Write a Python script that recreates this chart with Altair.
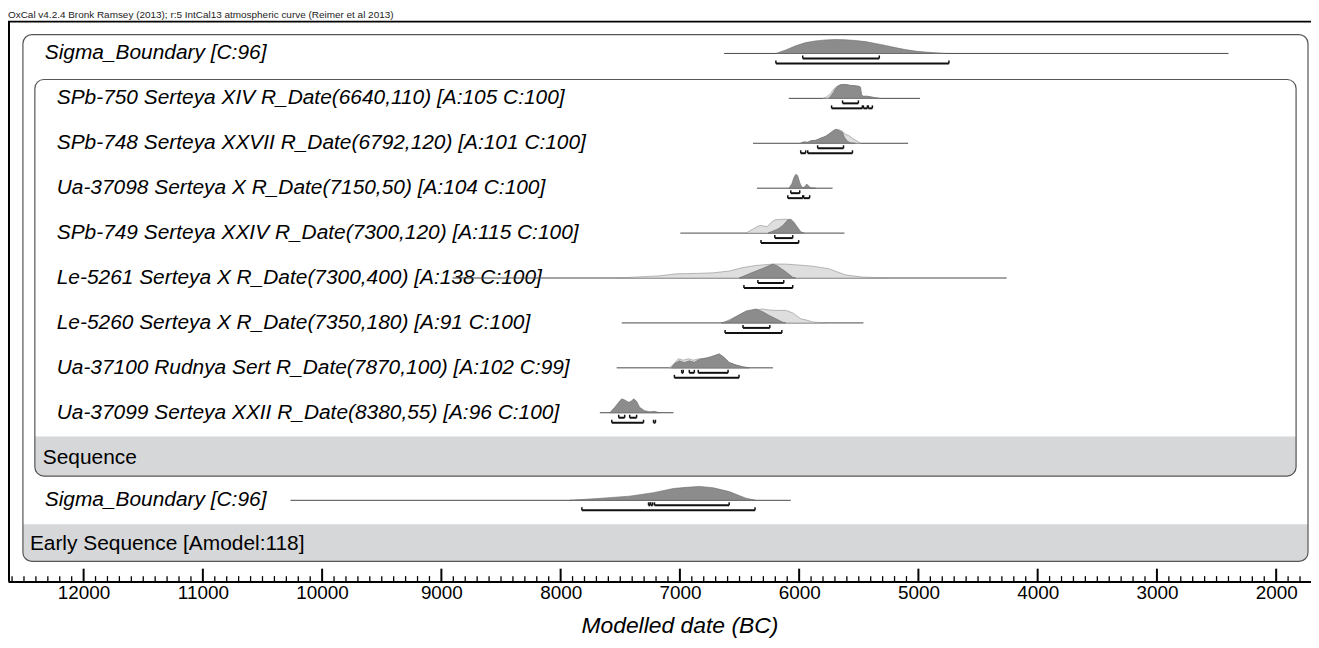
import altair as alt
import pandas as pd

FONT = "Liberation Sans"
TITLE = "OxCal v4.2.4 Bronk Ramsey (2013); r:5 IntCal13 atmospheric curve (Reimer et al 2013)"
AXIS_TITLE = "Modelled date (BC)"

# ---------------- item labels (row order, top to bottom) ----------------
OUTER_LABELS = ["Sigma_Boundary [C:96]", "Sigma_Boundary [C:96]"]
OUTER_ROWS = [0, 10]
INNER_LABELS = [
    "SPb-750 Serteya XIV R_Date(6640,110) [A:105 C:100]",
    "SPb-748 Serteya XXVII R_Date(6792,120) [A:101 C:100]",
    "Ua-37098 Serteya X R_Date(7150,50) [A:104 C:100]",
    "SPb-749 Serteya XXIV R_Date(7300,120) [A:115 C:100]",
    "Le-5261 Serteya X R_Date(7300,400) [A:138 C:100]",
    "Le-5260 Serteya X R_Date(7350,180) [A:91 C:100]",
    "Ua-37100 Rudnya Sert R_Date(7870,100) [A:102 C:99]",
    "Ua-37099 Serteya XXII R_Date(8380,55) [A:96 C:100]",
]
INNER_ROWS = [1, 2, 3, 4, 5, 6, 7, 8]
SEQ_LABEL, SEQ_ROW = "Sequence", 9
EARLY_LABEL, EARLY_ROW = "Early Sequence [Amodel:118]", 11

# ---------------- axis ticks (years BC) ----------------
MAJOR_TICKS = [2000, 3000, 4000, 5000, 6000, 7000, 8000, 9000, 10000, 11000, 12000]
MINOR_TICKS = list(range(1800, 12700, 100))

# ---------------- baseline extents (from, to) in years BC ----------------
LINE_ROWS = [0, 1, 2, 3, 4, 5, 6, 7, 8, 10]
LINE_FROM = [6629, 6087, 6387, 6354, 6996, 8906, 7488, 7530, 7671, 10265]
LINE_TO = [2400, 4986, 5086, 5720, 5620, 4260, 5461, 6220, 7054, 6070]

# ---------------- posterior (dark) / likelihood (light) distributions ----------------
SB1_YR = [6195, 6112, 6028, 5945, 5862, 5778, 5695, 5611, 5528, 5445, 5361, 5278, 5194, 5111, 5027, 4944, 4861, 4777]
SB1_P = [0, .25, .55, .78, .90, .97, 1.0, .98, .93, .85, .72, .58, .42, .28, .17, .10, .05, 0]

S750_YR = [5753, 5737, 5711, 5695, 5670, 5653, 5628, 5595, 5570, 5528, 5495, 5486, 5478, 5461, 5428, 5395, 5361, 5328]
S750_P = [0, .15, .45, .70, .90, .97, 1.0, .98, .93, .90, .86, .80, .25, .15, .15, .10, .04, 0]
S750_LYR = [5800, 5770, 5737, 5711, 5695, 5670, 5653, 5628, 5595, 5570, 5528, 5495, 5486, 5478, 5461, 5428, 5395, 5361, 5328]
S750_LP = [0, .10, .35, .65, .80, .92, .97, 1.0, .98, .93, .90, .86, .80, .25, .15, .15, .10, .04, 0]

S748_YR = [5987, 5962, 5928, 5903, 5862, 5820, 5778, 5753, 5720, 5695, 5670, 5636, 5620, 5595, 5570, 5528]
S748_P = [0, .10, .07, .18, .21, .36, .50, .64, .86, 1.0, .93, .78, .43, .14, .04, 0]
S748_LYR = [5987, 5962, 5928, 5903, 5862, 5820, 5778, 5753, 5720, 5695, 5670, 5636, 5611, 5586, 5553, 5511, 5486]
S748_LP = [0, .10, .07, .18, .21, .36, .50, .64, .86, .98, 1.0, .86, .64, .57, .36, .14, 0]

U098_YR = [6087, 6062, 6045, 6028, 6012, 5995, 5978, 5962, 5945, 5937, 5920, 5903, 5862]
U098_P = [0, .30, .75, 1.0, .90, .40, .08, .05, .20, .30, .15, .03, 0]

S749_YR = [6262, 6220, 6178, 6137, 6095, 6070, 6045, 6012, 5987, 5962]
S749_P = [0, .15, .30, .55, .95, 1.0, .80, .40, .10, 0]
S749_LYR = [6446, 6395, 6345, 6320, 6270, 6237, 6204, 6160, 6112, 6078, 6045, 6012, 5987, 5950]
S749_LP = [0, .25, .50, .55, .45, .75, .95, .98, 1.0, .95, .60, .25, .07, 0]

L261_YR = [6504, 6420, 6304, 6220, 6178, 6112, 6053, 6028]
L261_P = [0, .30, .70, 1.0, .85, .45, .05, 0]
L261_LYR = [7530, 7179, 7029, 6863, 6721, 6587, 6471, 6362, 6220, 6112, 6003, 5887, 5753, 5611, 5470, 5253]
L261_LP = [0, .15, .30, .33, .37, .50, .75, .90, 1.0, 1.0, .93, .85, .67, .22, .07, 0]

L260_YR = [6654, 6587, 6529, 6446, 6362, 6304, 6254, 6195, 6137, 6112]
L260_P = [0, .15, .45, .85, 1.0, .80, .55, .30, .05, 0]
L260_LYR = [6637, 6587, 6471, 6362, 6304, 6254, 6195, 6112, 6053, 5987, 5945, 5887, 5778]
L260_LP = [0, .22, .72, .95, 1.0, .93, .90, .90, .72, .30, .22, .07, 0]

U100_YR = [7071, 7046, 7004, 6963, 6921, 6879, 6838, 6779, 6737, 6696, 6671, 6629, 6587, 6529, 6471, 6420]
U100_P = [0, .30, .50, .38, .50, .40, .60, .70, .80, .92, 1.0, .75, .38, .20, .07, 0]
U100_LYR = [7088, 7054, 7013, 6971, 6929, 6888, 6838, 6779, 6737, 6696, 6671, 6629, 6587, 6529, 6471, 6420]
U100_LP = [0, .25, .65, .55, .65, .55, .65, .70, .80, .92, 1.0, .75, .38, .20, .07, 0]

U099_YR = [7588, 7546, 7513, 7488, 7463, 7430, 7405, 7388, 7363, 7338, 7296, 7254, 7213, 7171]
U099_P = [0, .40, .75, 1.0, .92, .75, .85, 1.0, .82, .40, .15, .07, .10, 0]

SB2_YR = [7922, 7655, 7421, 7221, 7054, 6946, 6838, 6721, 6587, 6446, 6362]
SB2_P = [0, .15, .30, .55, .85, .93, 1.0, .90, .63, .15, 0]

POST = [(0, SB1_YR, SB1_P), (1, S750_YR, S750_P), (2, S748_YR, S748_P), (3, U098_YR, U098_P),
        (4, S749_YR, S749_P), (5, L261_YR, L261_P), (6, L260_YR, L260_P), (7, U100_YR, U100_P),
        (8, U099_YR, U099_P), (10, SB2_YR, SB2_P)]
LIKE = [(1, S750_LYR, S750_LP), (2, S748_LYR, S748_LP), (4, S749_LYR, S749_LP),
        (5, L261_LYR, L261_LP), (6, L260_LYR, L260_LP), (7, U100_LYR, U100_LP)]

# ---------------- highest posterior density ranges (from, to) ----------------
R68_ROWS = [0, 1, 2, 3, 4, 5, 6, 7, 7, 7, 8, 8, 10, 10, 10]
R68_FROM = [5970, 5636, 5845, 6070, 6204, 6346, 6471, 6985, 6921, 6846, 7513, 7421, 7263, 7244, 7213]
R68_TO = [5328, 5503, 5628, 5995, 6054, 6129, 6246, 6972, 6879, 6596, 7463, 7363, 7250, 7228, 6587]
R95_ROWS = [0, 1, 1, 1, 2, 2, 3, 3, 4, 5, 6, 7, 8, 8, 10]
R95_FROM = [6195, 5728, 5461, 5420, 5987, 5928, 6095, 5962, 6320, 6463, 6621, 7046, 7571, 7221, 7822]
R95_TO = [4744, 5470, 5428, 5386, 5945, 5553, 5970, 5912, 6004, 6054, 6145, 6504, 7305, 7205, 6370]

# ---------------- layout (vertical slot of each row) ----------------
ROW_POS = [0, 1, 2, 3, 4, 5, 6, 7, 8, 9, 9.95, 10.93]
W, H = 1310, 563
Y_DOM = [-0.7087, 11.760]
X_DOM = [1708, 12634]
PEAK = 0.31
OFF68, OFF95, CAP = 0.111, 0.222, 0.066


def pos(r):
    return ROW_POS[r]


xs = alt.Scale(domain=X_DOM, reverse=True, nice=False, zero=False)
ys = alt.Scale(domain=Y_DOM, reverse=True, nice=False, zero=False)
AX = alt.Axis(values=MAJOR_TICKS, format="d", ticks=False, grid=False, domain=True,
              domainColor="#000000", domainWidth=2, labelFont=FONT, labelFontSize=19,
              labelColor="#000000", labelPadding=2, labelFlush=False, title=AXIS_TITLE,
              titleFont=FONT, titleFontSize=23, titleFontStyle="italic",
              titleFontWeight="normal", titleColor="#000000", titlePadding=12,
              titleX=675, titleAlign="center")


def X(f):
    return alt.X(f, type="quantitative", scale=xs, axis=AX)


def Y(f):
    return alt.Y(f, type="quantitative", scale=ys, axis=None)


def curve_df(items):
    rows = []
    for r, yrs, ps in items:
        for yr, p in zip(yrs, ps):
            rows.append({"id": r, "year": yr, "base": pos(r), "top": pos(r) - PEAK * p})
    return pd.DataFrame(rows)


post_df = curve_df(POST)
like_df = curve_df(LIKE)
line_df = pd.DataFrame({"y": [pos(r) for r in LINE_ROWS], "a": LINE_FROM, "b": LINE_TO})

seg = []
for rows, fr, to, off in [(R68_ROWS, R68_FROM, R68_TO, OFF68), (R95_ROWS, R95_FROM, R95_TO, OFF95)]:
    for r, a, b in zip(rows, fr, to):
        seg.append({"a": a, "b": b, "y": pos(r) + off, "y2": pos(r) + off - CAP})
seg_df = pd.DataFrame(seg)
cap_df = pd.concat([seg_df[["a", "y", "y2"]].rename(columns={"a": "x"}),
                    seg_df[["b", "y", "y2"]].rename(columns={"b": "x"})])

bottom = Y_DOM[1]
tick_df = pd.DataFrame({"year": MINOR_TICKS})
tick_df["major"] = tick_df["year"].isin(MAJOR_TICKS)
tick_df["y"] = bottom
tick_df["y2"] = [bottom - (0.288 if m else 0.122) for m in tick_df["major"]]

outer_df = pd.DataFrame({"top": [pos(OUTER_ROWS[0]) - 0.42], "bottom": [pos(EARLY_ROW) + 0.38]})
inner_df = pd.DataFrame({"top": [pos(INNER_ROWS[0]) - 0.42], "bottom": [pos(SEQ_ROW) + 0.41]})
seqband_df = pd.DataFrame({"top": [pos(SEQ_ROW) - 0.47], "bottom": [pos(SEQ_ROW) + 0.41]})
earlyband_df = pd.DataFrame({"top": [pos(EARLY_ROW) - 0.45], "bottom": [pos(EARLY_ROW) + 0.38]})
one = pd.DataFrame({"k": [0]})

layers = []
# boxes
layers.append(alt.Chart(outer_df).mark_rect(cornerRadius=9, fill="white").encode(
    x=alt.value(15), x2=alt.value(1307), y=Y("top"), y2=alt.Y2("bottom")))
layers.append(alt.Chart(earlyband_df).mark_rect(cornerRadiusBottomLeft=9, cornerRadiusBottomRight=9,
                                                fill="#d6d7d9").encode(
    x=alt.value(15), x2=alt.value(1307), y=Y("top"), y2=alt.Y2("bottom")))
layers.append(alt.Chart(seqband_df).mark_rect(cornerRadiusBottomLeft=9, cornerRadiusBottomRight=9,
                                              fill="#d6d7d9").encode(
    x=alt.value(27), x2=alt.value(1295), y=Y("top"), y2=alt.Y2("bottom")))
layers.append(alt.Chart(outer_df).mark_rect(cornerRadius=9, fill=None, stroke="#555555",
                                            strokeWidth=1.2).encode(
    x=alt.value(15), x2=alt.value(1307), y=Y("top"), y2=alt.Y2("bottom")))
layers.append(alt.Chart(inner_df).mark_rect(cornerRadius=9, fill=None, stroke="#555555",
                                            strokeWidth=1.2).encode(
    x=alt.value(27), x2=alt.value(1295), y=Y("top"), y2=alt.Y2("bottom")))

# labels
txt = dict(font=FONT, fontSize=21, align="left", baseline="middle", color="#000000")
layers.append(alt.Chart(pd.DataFrame({"y": [pos(r) for r in OUTER_ROWS], "t": OUTER_LABELS})).mark_text(
    fontStyle="italic", **txt).encode(x=alt.value(37), y=Y("y"), text="t:N"))
layers.append(alt.Chart(pd.DataFrame({"y": [pos(r) for r in INNER_ROWS], "t": INNER_LABELS})).mark_text(
    fontStyle="italic", **txt).encode(x=alt.value(49), y=Y("y"), text="t:N"))
layers.append(alt.Chart(pd.DataFrame({"y": [pos(SEQ_ROW)], "t": [SEQ_LABEL]})).mark_text(**txt).encode(
    x=alt.value(35), y=Y("y"), text="t:N"))
layers.append(alt.Chart(pd.DataFrame({"y": [pos(EARLY_ROW)], "t": [EARLY_LABEL]})).mark_text(**txt).encode(
    x=alt.value(22), y=Y("y"), text="t:N"))

# baselines
layers.append(alt.Chart(line_df).mark_rule(color="#4a4a4a", strokeWidth=1).encode(
    x=X("a"), x2=alt.X2("b"), y=Y("y")))
# likelihoods (light) and posteriors (dark)
layers.append(alt.Chart(like_df).mark_area(fill="#dedede", stroke="#9a9a9a", strokeWidth=0.7).encode(
    x=X("year"), y=Y("top"), y2=alt.Y2("base"), detail="id:N"))
layers.append(alt.Chart(post_df).mark_area(fill="#8c8c8c", stroke="#6a6a6a", strokeWidth=0.6).encode(
    x=X("year"), y=Y("top"), y2=alt.Y2("base"), detail="id:N"))
# ranges
layers.append(alt.Chart(seg_df).mark_rule(color="#111111", strokeWidth=2).encode(
    x=X("a"), x2=alt.X2("b"), y=Y("y")))
layers.append(alt.Chart(cap_df).mark_rule(color="#111111", strokeWidth=1.5).encode(
    x=X("x"), y=Y("y"), y2=alt.Y2("y2")))
# axis ticks (pointing up)
layers.append(alt.Chart(tick_df).mark_rule(color="#000000").encode(
    x=X("year"), y=Y("y"), y2=alt.Y2("y2"),
    strokeWidth=alt.condition("datum.major", alt.value(2), alt.value(1.3))))
# frame
layers.append(alt.Chart(one).mark_rule(color="#000000", strokeWidth=2).encode(
    x=alt.value(0), x2=alt.value(W), y=alt.value(0)))
layers.append(alt.Chart(one).mark_rule(color="#000000", strokeWidth=2).encode(
    x=alt.value(1), y=alt.value(0), y2=alt.value(H)))
# header
layers.append(alt.Chart(one).mark_text(font=FONT, fontSize=10, align="left", baseline="alphabetic",
                                       color="#222222").encode(
    x=alt.value(0), y=alt.value(-3.5), text=alt.value(TITLE)))

chart = alt.layer(*layers).properties(
    width=W, height=H,
    padding={"left": 0, "top": 12, "right": 0, "bottom": 56},
    autosize=alt.AutoSizeParams(type="none"),
    background="white",
).configure_view(stroke=None)

chart.save("out.html", embed_options={"renderer": "svg", "actions": False})
